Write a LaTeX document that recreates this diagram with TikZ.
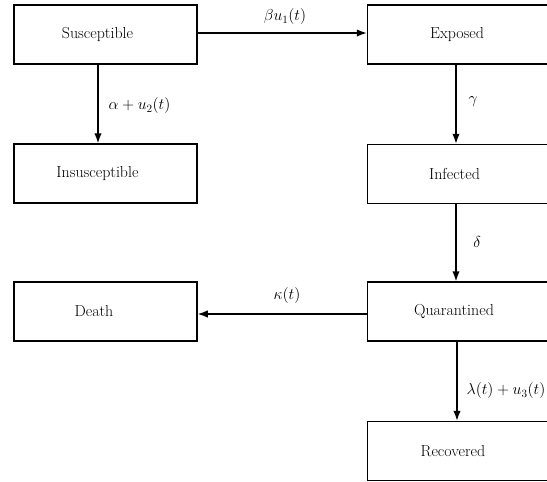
\RequirePackage{fix-cm}
\documentclass[tikz,border=0pt]{standalone}
\usetikzlibrary{arrows.meta}
\begin{document}
\begin{tikzpicture}[x=1pt,y=-1pt,
  box/.style={draw,line width=1.5pt,minimum width=183pt,minimum height=59pt,inner sep=0pt},
  txt/.style={inner sep=0pt,font=\fontsize{15.9}{19}\selectfont},
  arr/.style={line width=1.5pt,-{Latex[length=10pt,width=7.5pt]}},
  lab/.style={font=\fontsize{15.9}{19}\selectfont}]
\useasboundingbox (0,0) rectangle (547,482);
\clip (0,0) rectangle (547,482);
\node[box] (s) at (105.5,34.5) {};
\node[box] (ins) at (105.5,173.5) {};
\node[box] (d) at (105.5,311.5) {};
\node[box] (e) at (459,34.5) {};
\node[box] (i) at (459,174) {};
\node[box] (q) at (459,311.5) {};
\node[box] (r) at (459,451) {};
\node[txt] (ts) at ([xshift=-8pt]s.center) {Susceptible};
\node[txt] (tins) at ([xshift=-8pt]ins.center) {Insusceptible};
\node[txt] (td) at ([xshift=-11.5pt]d.center) {Death};
\node[txt] (te) at ([xshift=-2pt]e.center) {Exposed};
\node[txt] (ti) at ([xshift=-4.5pt]i.center) {Infected};
\node[txt] (tq) at ([xshift=-5pt]q.center) {Quarantined};
\node[txt] (tr) at ([xshift=-6pt]r.center) {Recovered};
\draw[arr] ([yshift=1.5pt]s.east) -- ([yshift=1.5pt]e.west);
\draw[arr] ([xshift=-7.5pt]s.south) -- ([xshift=-7.5pt]ins.north);
\draw[arr] ([xshift=-3pt]e.south) -- ([xshift=-3pt]i.north);
\draw[arr] ([xshift=-3pt]i.south) -- ([xshift=-3pt]q.north);
\draw[arr] ([yshift=-2.5pt]q.west) -- ([yshift=-2.5pt]d.east);
\draw[arr] ([xshift=-2pt]q.south) -- ([xshift=-2pt]r.north);
\node[lab] (l1) at (285,17) {$\beta u_1(t)$};
\node[lab] (l2) at (139.5,106) {$\alpha+u_2(t)$};
\node[lab] (l3) at (473,102) {$\gamma$};
\node[lab] (l4) at (477,242) {$\delta$};
\node[lab] (l5) at (287,296) {$\kappa(t)$};
\node[lab] (l6) at (506,391) {$\lambda(t)+u_3(t)$};
\end{tikzpicture}
\end{document}
